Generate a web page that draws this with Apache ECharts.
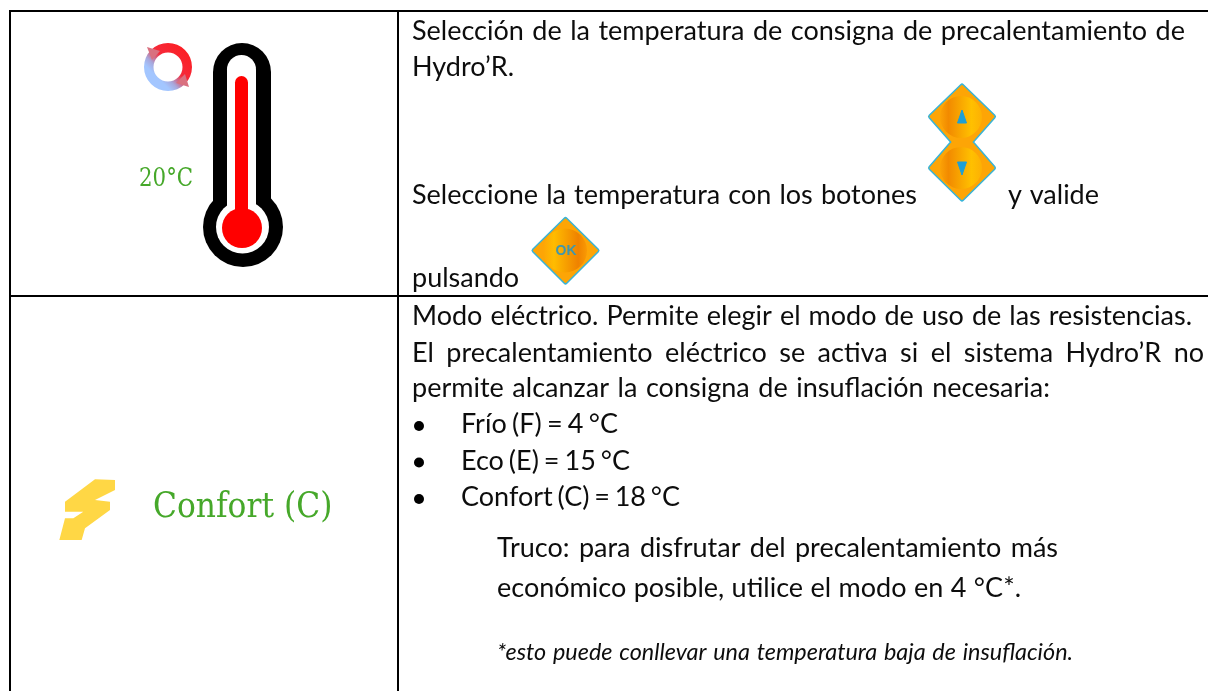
<!DOCTYPE html>
<html><head><meta charset="utf-8">
<style>html,body{margin:0;padding:0;background:#fff}#c{width:1208px;height:691px}</style>
<script src="https://cdn.jsdelivr.net/npm/echarts@6/dist/echarts.min.js"></script>
</head><body><div id="c"></div>
<script>
const row1Lines = ["Selección de la temperatura de consigna de precalentamiento de","Hydro’R.","Seleccione la temperatura con los botones","y valide","pulsando"];
const row2Lines = ["Modo eléctrico. Permite elegir el modo de uso de las resistencias.","El precalentamiento eléctrico se activa si el sistema Hydro’R no","permite alcanzar la consigna de insuflación necesaria:"];
const bulletItems = ["Frío (F) = 4 °C","Eco (E) = 15 °C","Confort (C) = 18 °C"];
const tipLines = ["Truco: para disfrutar del precalentamiento más","económico posible, utilice el modo en 4 °C*."];
const noteLine = "*esto puede conllevar una temperatura baja de insuflación.";
const iconLabels = ["20°C","Confort (C)","OK"];

const FONT = 'Lato';
const ctx = document.createElement('canvas').getContext('2d');
function fontStr(size, italic){ return (italic?'italic ':'')+size+'px '+FONT; }
function natural(t,size,italic){ ctx.font=fontStr(size,italic); return ctx.measureText(t).width; }
function fit(t,w,italic){ return 24*w/natural(t,24,italic); }
function baseOff(font){ ctx.font=font; ctx.textBaseline='middle'; const m=ctx.measureText('H'); ctx.textBaseline='alphabetic'; return m.actualBoundingBoxDescent; }

const els = [];
const INK = '#0d0d0d';
function word(t,x,base,size,italic){
  const font=fontStr(size,italic);
  els.push({type:'text',x:x,y:base-baseOff(font),silent:true,style:{text:t,fill:INK,fontFamily:FONT,fontSize:size,fontStyle:italic?'italic':'normal',align:'left',verticalAlign:'middle'}});
}
function line(t,x0,x1,base,size,italic){
  const ws=t.split(' ');
  const total=ws.reduce((a,w)=>a+natural(w,size,italic),0);
  const gap=ws.length>1?((x1-x0)-total)/(ws.length-1):0;
  let x=x0;
  ws.forEach(w=>{word(w,x,base,size,italic);x+=natural(w,size,italic)+gap;});
}
const S = 27;
line(row1Lines[0],412,1185,40,S);
line(row1Lines[1],412,513,76,S);
line(row1Lines[2],412,917,204,S);
line(row1Lines[3],1008,1099,204,S);
line(row1Lines[4],412,521,287,S);
line(row2Lines[0],412,1192,325,S);
line(row2Lines[1],412,1204,362,S);
line(row2Lines[2],412,1050,397,S);
const bulletEnds=[618,630,680];
bulletItems.forEach((t,i)=>{
  const b=433+i*36.5;
  els.push({type:'circle',silent:true,shape:{cx:419,cy:b-7,r:5},style:{fill:'#000'}});
  line(t,461,bulletEnds[i],b,S);
});
line(tipLines[0],497,1058,557,S);
line(tipLines[1],497,1021,597,S);
const SI=fit(noteLine,576,true)*0.985;
line(noteLine,497,1073,660,SI,true);

// table rules
[[9,10,1199,2],[9,295,1199,2],[9,10,2,681],[397,10,2,681]].forEach(r=>els.push({type:'rect',silent:true,shape:{x:r[0],y:r[1],width:r[2],height:r[3]},style:{fill:'#000'}}));

// thermometer
const capsule=(l,r,t,b)=>({type:'rect',silent:true,shape:{x:l,y:t,width:r-l,height:b-t,r:[(r-l)/2,(r-l)/2,0,0]}});
const th=(o,fill)=>{o.style={fill:fill};els.push(o);};
th(capsule(213,271,43,215),'#000');
th({type:'circle',silent:true,shape:{cx:243,cy:227,r:40}},'#000');
th(capsule(227,256,55,215),'#fff');
th({type:'circle',silent:true,shape:{cx:242.5,cy:227,r:26.5}},'#fff');
th(capsule(235,248,76,215),'#f00');
th({type:'circle',silent:true,shape:{cx:242,cy:228,r:20}},'#f00');

// recirculation ring
const ringGrad={type:'linear',x:1,y:0,x2:0,y2:1,colorStops:[{offset:0,color:'#ff1a1a'},{offset:.45,color:'#f52a3a'},{offset:.62,color:'#a8a8dc'},{offset:.72,color:'#a3c6ff'},{offset:1,color:'#a3c6ff'}]};
els.push({type:'ring',silent:true,shape:{cx:168,cy:67,r:24,r0:14.5},style:{fill:ringGrad}});
els.push({type:'polygon',silent:true,shape:{points:[[147,47],[160,51],[152,60]]},style:{fill:'#d9707f'}});
els.push({type:'polygon',silent:true,shape:{points:[[189,87],[176,83],[185,74]]},style:{fill:'#d9707f'}});

// bolt
const boltZoom=[[255,90],[195,88],[105,155],[105,185],[160,185],[130,205],[105,205],[88,270],[155,270],[165,235],[240,180],[240,155],[195,150],[255,120]];
els.push({type:'polygon',silent:true,shape:{points:boltZoom.map(p=>[30+p[0]/3,450+p[1]/3])},style:{fill:'#ffd745'}});

// serif labels
function serif(t,x,y,size,sx){
  els.push({type:'text',x:x,y:y,scaleX:sx,silent:true,style:{text:t,fill:'#46a82a',fontFamily:'DejaVu Serif',fontSize:size,align:'left',verticalAlign:'middle'}});
}
serif(iconLabels[0],139,179,26,.82);
serif(iconLabels[1],153,508,36,.87);

// buttons
function diamond(points){
  els.push({type:'polygon',silent:true,shape:{points},style:{fill:'#38b4d8',stroke:'#38b4d8',lineWidth:5,lineJoin:'round'}});
  els.push({type:'polygon',silent:true,shape:{points},style:{fill:'#fda506',stroke:'#fda506',lineWidth:2,lineJoin:'round'}});
}
function glow(cx,cy,r,stops){
  els.push({type:'circle',silent:true,shape:{cx,cy,r},style:{fill:{type:'linear',x:0,y:0,x2:1,y2:0,colorStops:stops}}});
}
const stopsUD=[{offset:0,color:'#fba306'},{offset:.2,color:'#f28a00'},{offset:.75,color:'#ffc000'},{offset:1,color:'#fdb004'}];
const stopsOK=[{offset:0,color:'#fda506'},{offset:.25,color:'#ffbc00'},{offset:.8,color:'#ef8200'},{offset:1,color:'#f99a04'}];
diamond([[962,86],[993.5,116.5],[971,142],[993.5,168],[962,199],[930.5,168],[953,142],[930.5,116.5]]);
glow(961,117,21,stopsUD);
glow(961,168,21,stopsUD);
els.push({type:'polygon',silent:true,shape:{points:[[962,110],[957.5,123],[966.5,123]]},style:{fill:'#1e9fd6',stroke:'#1e9fd6',lineWidth:1,lineJoin:'round'}});
els.push({type:'polygon',silent:true,shape:{points:[[962,175],[957.5,162],[966.5,162]]},style:{fill:'#1e9fd6',stroke:'#1e9fd6',lineWidth:1,lineJoin:'round'}});
diamond([[565.5,219.5],[597,250.5],[565.5,282],[534,250.5]]);
glow(565,250.5,22,stopsOK);
els.push({type:'text',x:566,y:251,silent:true,style:{text:iconLabels[2],fill:'#3f97ad',fontFamily:'Liberation Sans',fontWeight:'bold',fontSize:14,align:'center',verticalAlign:'middle'}});

const chart=echarts.init(document.getElementById('c'));
chart.setOption({animation:false,backgroundColor:'#fff',graphic:{elements:els}});
</script></body></html>
